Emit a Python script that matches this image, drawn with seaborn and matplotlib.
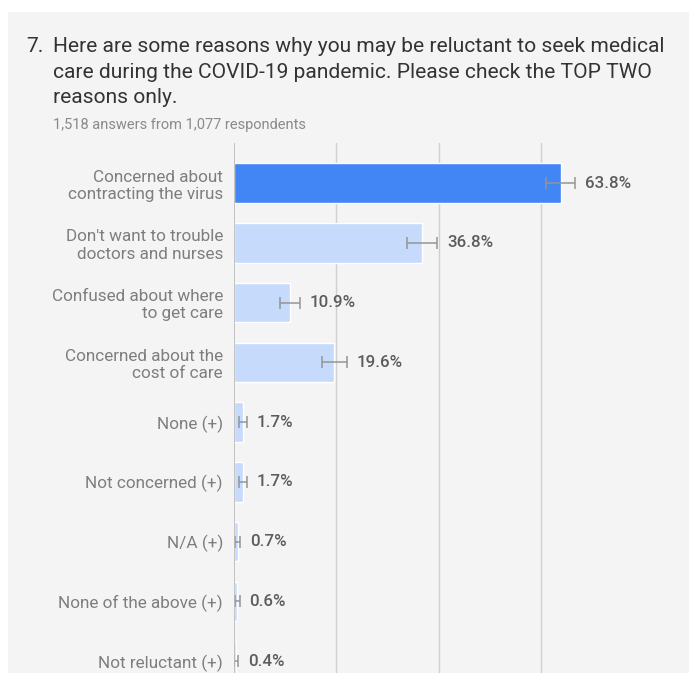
import matplotlib
matplotlib.use("Agg")
import matplotlib.pyplot as plt
import seaborn as sns
import pandas as pd
from matplotlib.patches import Rectangle

categories = [
    "Concerned about\ncontracting the virus",
    "Don't want to trouble\ndoctors and nurses",
    "Confused about where\nto get care",
    "Concerned about the\ncost of care",
    "None (+)",
    "Not concerned (+)",
    "N/A (+)",
    "None of the above (+)",
    "Not reluctant (+)",
]
values = [63.8, 36.8, 10.9, 19.6, 1.7, 1.7, 0.7, 0.6, 0.4]
ci = [2.9, 2.9, 1.9, 2.4, 0.8, 0.8, 0.5, 0.5, 0.4]
value_labels = ["63.8%", "36.8%", "10.9%", "19.6%", "1.7%", "1.7%", "0.7%", "0.6%", "0.4%"]
colors = ["#4285f4"] + ["#c6dafc"] * 8

title_lines = ["Here are some reasons why you may be reluctant to seek medical",
               "care during the COVID-19 pandemic. Please check the TOP TWO",
               "reasons only."]
subtitle = "1,518 answers from 1,077 respondents"

sns.set_theme(style="white")
plt.rcParams["font.family"] = ["Roboto", "DejaVu Sans"]

W, H = 689, 673
fig = plt.figure(figsize=(W / 100, H / 100), dpi=100, facecolor="white")
bg = Rectangle((8 / W, 0), 1 - 8 / W, 1 - 12 / H, transform=fig.transFigure,
               facecolor="#f4f4f4", edgecolor="none", zorder=-10)
fig.patches.append(bg)

ax = fig.add_axes([234 / W, 0, (669 - 234) / W, (673 - 143) / H])
ax.set_facecolor("none")
ax.set_zorder(5)

df = pd.DataFrame({"cat": categories, "val": values})
sns.barplot(data=df, x="val", y="cat", hue="cat", palette=colors, legend=False,
            width=0.66, saturation=1, ax=ax, zorder=2)
ax.errorbar(values, range(len(values)), xerr=ci, fmt="none", ecolor="#959595",
            elinewidth=1.1, capsize=4.5, capthick=1.1, zorder=3)
for i, (v, c, lab) in enumerate(zip(values, ci, value_labels)):
    ax.annotate(lab, xy=(v + c, i), xytext=(7, 0), textcoords="offset points",
                va="center", ha="left", fontsize=12.2, fontweight="medium", color="#5c5c5c")

ax.set_xlim(0, 85)
ax.set_ylim(8.2, -0.67)
for g in [20, 40, 60]:
    ax.axvline(g, color="#d0d0d0", lw=1, zorder=1)
ax.axvline(0, color="#b8b8b8", lw=1.2, zorder=4)
for s in ax.spines.values():
    s.set_visible(False)
ax.set_xticks([])
ax.set_xlabel("")
ax.set_ylabel("")
ax.tick_params(axis="y", length=0, pad=8)
for t in ax.get_yticklabels():
    t.set_fontsize(12.3)
    t.set_color("#7e7e7e")
    t.set_multialignment("right")

fig.text(26 / W, 1 - 52 / H, "7.", fontsize=15.1, color="#333333", va="baseline", ha="left")
for k, (line, yb) in enumerate(zip(title_lines, [52, 77.5, 103])):
    fig.text(53 / W, 1 - yb / H, line, fontsize=15.1, color="#333333",
             va="baseline", ha="left")
fig.text(53 / W, 1 - 125 / H, subtitle, fontsize=10.5, color="#8a8a8a", va="center", ha="left")

fig.savefig("out.png", dpi=100, facecolor="white")
